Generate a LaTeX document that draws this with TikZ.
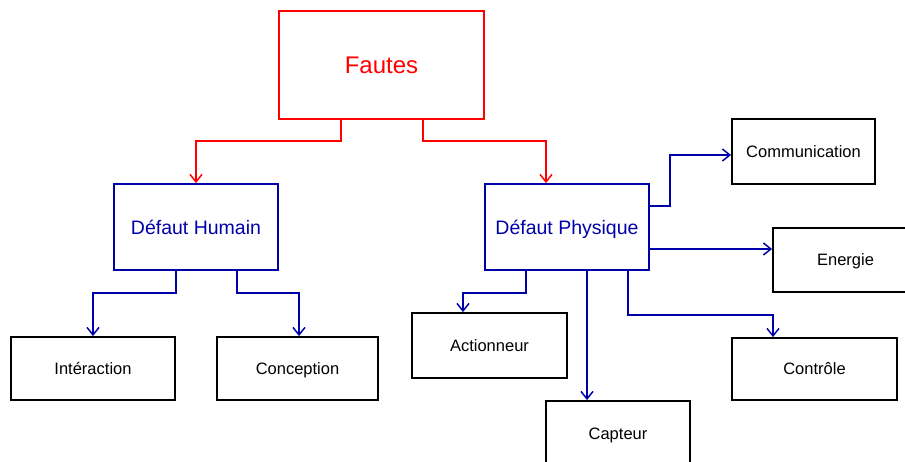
\documentclass[tikz,border=0pt]{standalone}
\usepackage{fontspec}
\setmainfont{Liberation Sans}
\usetikzlibrary{arrows.meta}
\definecolor{linkblue}{RGB}{0,0,170}
\definecolor{linkred}{RGB}{255,0,0}
\tikzset{
  leafbox/.style={draw=black, line width=1.8pt, fill=white, inner sep=0pt,
    font=\fontsize{16.5}{19}\selectfont, text=black,
    text height=11.8pt, text depth=0pt},
  midbox/.style={draw=linkblue, line width=1.8pt, fill=white, inner sep=0pt,
    minimum width=164pt, minimum height=86pt,
    font=\fontsize{19.5}{22}\selectfont, text=linkblue,
    text height=14pt, text depth=0pt},
  topbox/.style={draw=linkred, line width=1.8pt, fill=white, inner sep=0pt,
    minimum width=205pt, minimum height=108pt,
    font=\fontsize{24}{28}\selectfont, text=linkred,
    text height=17.2pt, text depth=0pt},
  redlink/.style={draw=linkred, line width=1.5pt, -{Straight Barb[length=7.5pt,width=12pt,line width=1.5pt]}},
  bluelink/.style={draw=linkblue, line width=1.5pt, -{Straight Barb[length=7.5pt,width=12pt,line width=1.5pt]}}
}
\begin{document}
\begin{tikzpicture}[x=1pt,y=-1pt]
\useasboundingbox (0,0) rectangle (905,461);
\clip (0,0) rectangle (905,461);
\fill[white] (0,0) rectangle (905,461);

% top level
\node[topbox] (F) at (381.5,65) {Fautes};

% second level
\node[midbox] (DH) at (196,227) {Défaut Humain};
\node[midbox] (DP) at (567,227) {Défaut Physique};

% leaves
\node[leafbox, minimum width=164pt, minimum height=63pt] (I) at (93,368.5) {Intéraction};
\node[leafbox, minimum width=161pt, minimum height=63pt] (C) at (297.5,368.5) {Conception};
\node[leafbox, minimum width=155pt, minimum height=65pt] (A) at (489.5,345.5) {Actionneur};
\node[leafbox, minimum width=144pt, minimum height=65pt] (Cap) at (618,433.5) {Capteur};
\node[leafbox, minimum width=165pt, minimum height=62pt] (Ctl) at (814.5,369) {Contrôle};
\node[leafbox, minimum width=145pt, minimum height=64pt] (E) at (845.5,260) {Energie};
\node[leafbox, minimum width=143pt, minimum height=65pt] (Com) at (803.5,151.5) {Communication};

% red connectors
\draw[redlink] ([xshift=-40.5pt]F.south) -- ++(0,21) -| (DH.north);
\draw[redlink] ([xshift=41.5pt]F.south) -- ++(0,21) -| ([xshift=-21pt]DP.north);

% blue connectors, human branch
\draw[bluelink] ([xshift=-20pt]DH.south) -- ++(0,22) -| (I.north);
\draw[bluelink] ([xshift=41pt]DH.south) -- ++(0,22) -| ([xshift=1.5pt]C.north);

% blue connectors, physical branch
\draw[bluelink] ([xshift=-41pt]DP.south) -- ++(0,22) -| ([xshift=-26.5pt]A.north);
\coordinate (capstart) at ([xshift=20pt]DP.south);
\draw[bluelink] (capstart) -- (capstart |- Cap.north);
\draw[bluelink] ([xshift=61pt]DP.south) -- ++(0,44) -| ([xshift=-41.5pt]Ctl.north);
\coordinate (enstart) at ([yshift=-22pt]DP.east);
\draw[bluelink] (enstart) -- (enstart -| E.west);
\draw[bluelink] ([yshift=21pt]DP.east) -- ++(20,0) |- ([yshift=-3.5pt]Com.west);
\end{tikzpicture}
\end{document}
